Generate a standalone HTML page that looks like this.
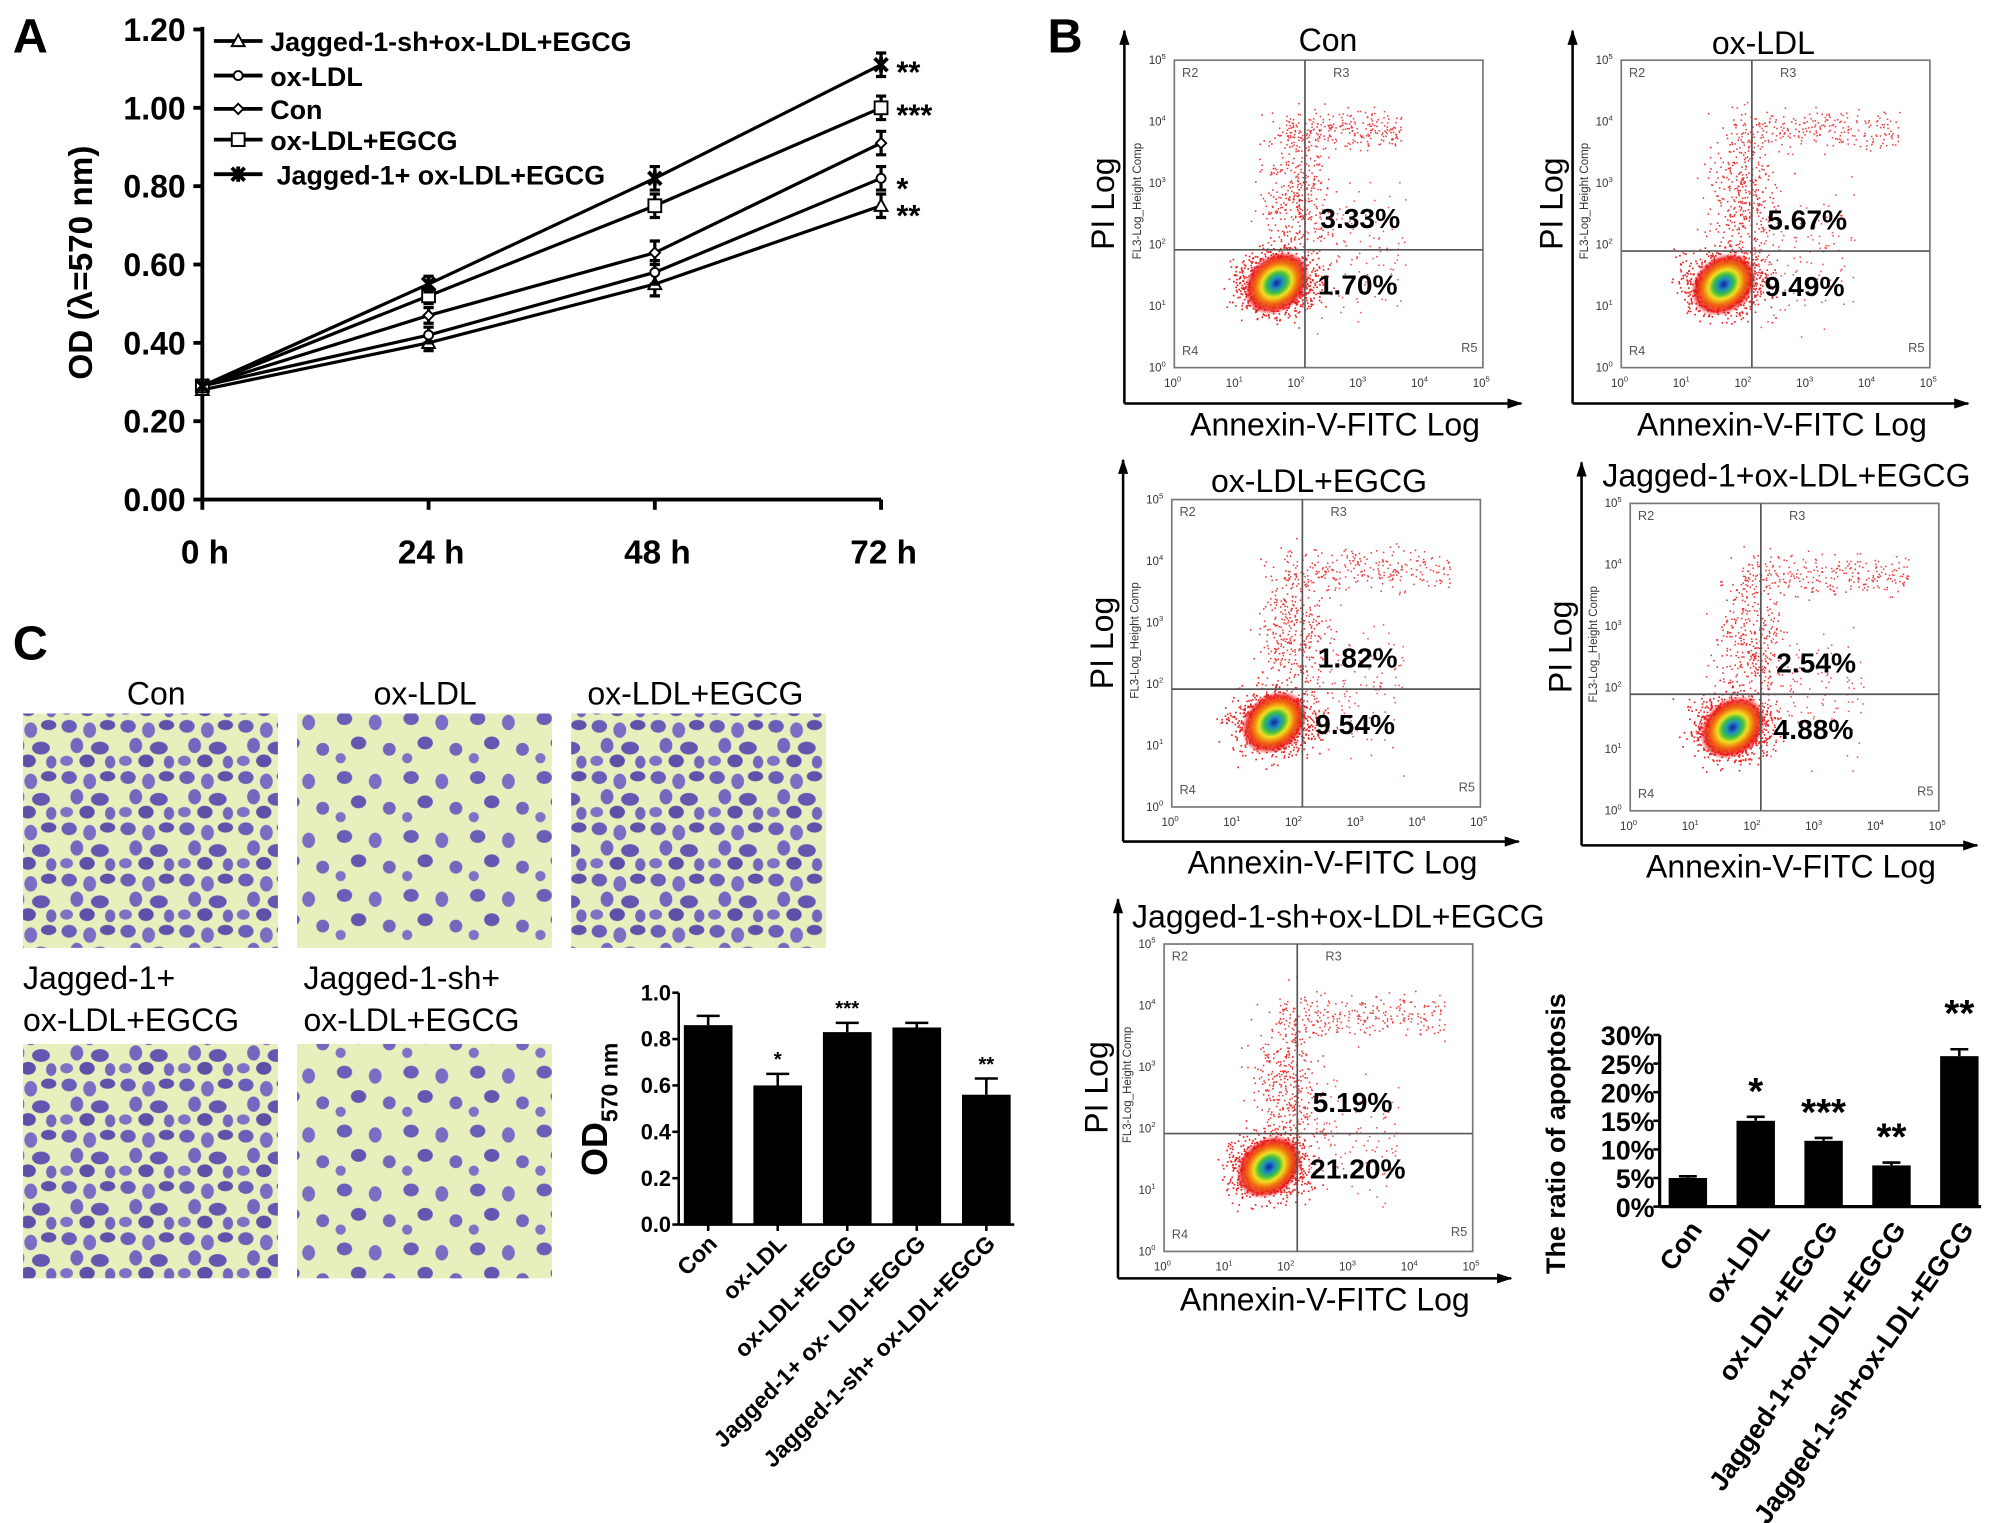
<!DOCTYPE html>
<html><head><meta charset="utf-8"><title>Figure</title>
<style>
html,body{margin:0;padding:0;background:#fff;}
svg{display:block;font-family:"Liberation Sans",Arial,sans-serif;}
.b{font-weight:bold;}
</style></head>
<body>
<svg id="fig" xmlns="http://www.w3.org/2000/svg" width="2008" height="1523" viewBox="0 0 1568 1189" preserveAspectRatio="none">
<defs>
<pattern id="cells" width="46" height="40" patternUnits="userSpaceOnUse">
<rect width="46" height="40" fill="#e9eebd"/>
<ellipse cx="8" cy="7" rx="6" ry="5" fill="#6a5fb8"/>
<ellipse cx="24" cy="10" rx="5" ry="6" fill="#7c6cc4"/>
<ellipse cx="38" cy="6" rx="6" ry="4" fill="#5e52ab"/>
<ellipse cx="14" cy="22" rx="5" ry="6" fill="#7567c0"/>
<ellipse cx="32" cy="24" rx="7" ry="5" fill="#6357b2"/>
<ellipse cx="6" cy="34" rx="5" ry="4" fill="#8070c6"/>
<ellipse cx="22" cy="34" rx="6" ry="5" fill="#5d50a8"/>
<ellipse cx="40" cy="35" rx="4" ry="5" fill="#7465bd"/>
</pattern>
<pattern id="cells2" width="52" height="46" patternUnits="userSpaceOnUse">
<rect width="52" height="46" fill="#e9eebd"/>
<ellipse cx="9" cy="9" rx="6" ry="5" fill="#6a5fb8"/>
<ellipse cx="33" cy="12" rx="5" ry="6" fill="#7c6cc4"/>
<ellipse cx="20" cy="28" rx="6" ry="5" fill="#6357b2"/>
<ellipse cx="44" cy="33" rx="5" ry="5" fill="#7465bd"/>
<ellipse cx="6" cy="40" rx="4" ry="4" fill="#8070c6"/>
</pattern>
<radialGradient id="dens">
<stop offset="0" stop-color="#1020a0"/>
<stop offset="0.18" stop-color="#1f8fbf"/>
<stop offset="0.32" stop-color="#40c040"/>
<stop offset="0.46" stop-color="#f0e020"/>
<stop offset="0.64" stop-color="#f07010"/>
<stop offset="0.85" stop-color="#e81010" stop-opacity="0.8"/>
<stop offset="1" stop-color="#ee2020" stop-opacity="0"/>
</radialGradient>
<marker id="arr" markerUnits="userSpaceOnUse" markerWidth="12" markerHeight="8" refX="11" refY="4" orient="auto"><path d="M0,0 L12,4 L0,8 z" fill="#000"/></marker>
</defs>
<g id="root"></g>
</svg>
<script>
// ---------- Panel A data ----------
const timeLabels = ["0 h","24 h","48 h","72 h"];
const seriesNames = ["Jagged-1-sh+ox-LDL+EGCG","ox-LDL","Con","ox-LDL+EGCG","Jagged-1+ ox-LDL+EGCG"];
const seriesJsh = [0.28,0.40,0.55,0.75];
const seriesOx = [0.29,0.42,0.58,0.82];
const seriesCon = [0.29,0.47,0.63,0.91];
const seriesOxE = [0.29,0.52,0.75,1.00];
const seriesJ = [0.29,0.55,0.82,1.11];
const errA = [0.02,0.02,0.03,0.03];
const aTicks = ["0.00","0.20","0.40","0.60","0.80","1.00","1.20"];
const aStars = ["**","*","","***","**"];
// ---------- Panel C bar data ----------
const cCats = ["Con","ox-LDL","ox-LDL+EGCG","Jagged-1+ ox- LDL+EGCG","Jagged-1-sh+ ox-LDL+EGCG"];
const cVals = [0.86,0.60,0.83,0.85,0.56];
const cErr = [0.04,0.05,0.04,0.02,0.07];
const cStars = ["","*","***","","**"];
const cTicks = ["0.0","0.2","0.4","0.6","0.8","1.0"];
// ---------- Panel B bar data ----------
const bCats = ["Con","ox-LDL","ox-LDL+EGCG","Jagged-1+ox-LDL+EGCG","Jagged-1-sh+ox-LDL+EGCG"];
const bVals = [5.0,15.0,11.5,7.2,26.3];
const bErr = [0.3,0.7,0.5,0.5,1.2];
const bStars = ["","*","***","**","**"];
const bTicks = ["0%","5%","10%","15%","20%","25%","30%"];
// ---------- Flow plots ----------
const flowTitles = ["Con","ox-LDL","ox-LDL+EGCG","Jagged-1+ox-LDL+EGCG","Jagged-1-sh+ox-LDL+EGCG"];
const flowUpper = ["3.33%","5.67%","1.82%","2.54%","5.19%"];
const flowLower = ["1.70%","9.49%","9.54%","4.88%","21.20%"];

const NS="http://www.w3.org/2000/svg";
const root=document.getElementById('root');
function mk(tag,attrs,parent,text){const e=document.createElementNS(NS,tag);for(const k in attrs)e.setAttribute(k,attrs[k]);if(text!==undefined)e.textContent=text;(parent||root).appendChild(e);return e;}

// ===== Panel A =====
const gA=mk('g',{});


const ax0=158, ax1=688, ay0=390, ay1=23;
const ax=i=>ax0+(ax1-ax0)*i/3;
const ay=v=>ay0-(ay0-ay1)*v/1.2;
let t=mk('text',{x:10,y:41,'font-size':38,class:'b'},gA,'A');

let l=mk('line',{x1:ax0,y1:ay1-2,x2:ax0,y2:ay0,stroke:'#000','stroke-width':3},gA);

l=mk('line',{x1:ax0,y1:ay0,x2:ax1,y2:ay0,stroke:'#000','stroke-width':3},gA);

aTicks.forEach((s,i)=>{const v=i*0.2;
 mk('line',{x1:ax0-7,y1:ay(v),x2:ax0,y2:ay(v),stroke:'#000','stroke-width':3},gA);
 const e=mk('text',{x:145,y:ay(v)+9,'font-size':25,'text-anchor':'end',class:'b'},gA,s);
 });
timeLabels.forEach((s,i)=>{
 mk('line',{x1:ax(i),y1:ay0,x2:ax(i),y2:ay0+8,stroke:'#000','stroke-width':3},gA);
 const e=mk('text',{x:ax(i)+2,y:440,'font-size':26,'text-anchor':'middle',class:'b'},gA,s);
 });
t=mk('text',{x:0,y:0,'font-size':26,'text-anchor':'middle',class:'b',transform:'translate(72,205) rotate(-90)'},gA,'OD (λ=570 nm)');

const aSeries=[seriesJsh,seriesOx,seriesCon,seriesOxE,seriesJ];
const markers=['tri','circ','dia','sq','star'];
function marker(type,x,y,g){
 if(type==='tri')mk('path',{d:`M${x},${y-5} L${x+5},${y+4} L${x-5},${y+4} Z`,fill:'#fff',stroke:'#000','stroke-width':1.5},g);
 else if(type==='circ')mk('circle',{cx:x,cy:y,r:3.5,fill:'#fff',stroke:'#000','stroke-width':1.5},g);
 else if(type==='dia')mk('path',{d:`M${x},${y-4} L${x+4},${y} L${x},${y+4} L${x-4},${y} Z`,fill:'#fff',stroke:'#000','stroke-width':1.5},g);
 else if(type==='sq')mk('rect',{x:x-5,y:y-5,width:10,height:10,fill:'#fff',stroke:'#000','stroke-width':1.5},g);
 else mk('path',{d:`M${x-5},${y-5} L${x+5},${y+5} M${x+5},${y-5} L${x-5},${y+5} M${x},${y-6} L${x},${y+6}`,stroke:'#000','stroke-width':3},g);
}
aSeries.forEach((s,k)=>{
 const g=mk('g',{},gA);
 
 
 mk('polyline',{points:s.map((v,i)=>ax(i)+','+ay(v)).join(' '),fill:'none',stroke:'#000','stroke-width':2.5},g);
 s.forEach((v,i)=>{
  if(i>0){const e=errA[i];mk('path',{d:`M${ax(i)},${ay(v+e)} V${ay(v-e)} M${ax(i)-4},${ay(v+e)} h8 M${ax(i)-4},${ay(v-e)} h8`,stroke:'#000','stroke-width':2.5,fill:'none'},g);}
  marker(markers[k],ax(i),ay(v),g);
 });
 if(aStars[k]){const st=mk('text',{x:700,y:ay(s[3])+(k===0?16:k===1?16:14),'font-size':24,class:'b'},g,aStars[k]);
  }
 const ly=[32,59,85,109,136][k];
 const lg=mk('g',{},gA);
 
 
 mk('line',{x1:167,y1:ly,x2:205,y2:ly,stroke:'#000','stroke-width':3},lg);
 marker(markers[k],186,ly,lg);
 mk('text',{x:k===4?216:211,y:ly+8,'font-size':21,class:'b'},lg,seriesNames[k]);
});

// ===== Panel C images =====
const gC=mk('g',{});


t=mk('text',{x:10,y:515,'font-size':38,class:'b'},gC,'C');

const imgs=[[18,557,'Con',122],[232,557,'ox-LDL',332],[446,557,'ox-LDL+EGCG',543],[18,815,null],[232,815,null]];
imgs.forEach((m,i)=>{
 const r=mk('rect',{x:m[0],y:m[1],width:199,height:183,fill:(i===1||i===4)?'url(#cells2)':'url(#cells)'},gC);
 
 if(m[2]){const e=mk('text',{x:m[3],y:550,'font-size':25,'text-anchor':'middle'},gC,m[2]);
  }
});
[[18,'Jagged-1+'],[237,'Jagged-1-sh+']].forEach(p=>{
 const e=mk('text',{x:p[0],y:772,'font-size':25},gC,p[1]);
 const f=mk('text',{x:p[0],y:805,'font-size':25},gC,'ox-LDL+EGCG');
});
const cx0=530,cy0=956,cy1=775;
const cy=v=>cy0-(cy0-cy1)*v;
const cxc=i=>553+i*54.3;
l=mk('line',{x1:cx0,y1:cy1,x2:cx0,y2:cy0,stroke:'#000','stroke-width':2},gC);

l=mk('line',{x1:cx0,y1:cy0,x2:792,y2:cy0,stroke:'#000','stroke-width':2},gC);

cTicks.forEach((s,i)=>{const v=i*0.2;mk('line',{x1:cx0-5,y1:cy(v),x2:cx0,y2:cy(v),stroke:'#000','stroke-width':2},gC);
 const e=mk('text',{x:cx0-6,y:cy(v)+6,'font-size':17,'text-anchor':'end',class:'b'},gC,s);
 });
t=mk('text',{x:0,y:0,'font-size':28,'text-anchor':'middle',class:'b',transform:'translate(474,866) rotate(-90)'},gC);
mk('tspan',{},t,'OD');mk('tspan',{'font-size':18,dy:8},t,'570 nm');

cVals.forEach((v,i)=>{
 const x=cxc(i);
 const b=mk('rect',{x:x-19,y:cy(v),width:38,height:cy0-cy(v),fill:'#000'},gC);
 
 mk('path',{d:`M${x},${cy(v)} V${cy(v+cErr[i])} M${x-9},${cy(v+cErr[i])} h18`,stroke:'#000','stroke-width':2},gC);
 if(cStars[i]){const s=mk('text',{x:x,y:cy(v+cErr[i])-6,'font-size':16,'text-anchor':'middle',class:'b'},gC,cStars[i]);
  }
 mk('line',{x1:x,y1:cy0,x2:x,y2:cy0+5,stroke:'#000','stroke-width':2},gC);
 const lb=mk('text',{x:0,y:0,'font-size':18,'text-anchor':'end',class:'b',transform:`translate(${x+8},${cy0+16}) rotate(-45)`},gC,cCats[i]);
 
});

// ===== Panel B flow plots =====
const gB=mk('g',{});


t=mk('text',{x:818,y:41,'font-size':38,class:'b'},gB,'B');

const flows=[
 {ax:878,ay0:24,ay1:315,fx:917,fy:47,fw:241,fh:240,qx:1019,qy:195,tx:1037,ty:40,anchor:'middle'},
 {ax:1228,ay0:24,ay1:315,fx:1266,fy:47,fw:241,fh:240,qx:1368,qy:196,tx:1377,ty:42,anchor:'middle'},
 {ax:877,ay0:359,ay1:657,fx:915,fy:390,fw:241,fh:240,qx:1017,qy:538,tx:1030,ty:384,anchor:'middle'},
 {ax:1235,ay0:361,ay1:660,fx:1273,fy:393,fw:241,fh:240,qx:1375,qy:542,tx:1395,ty:380,anchor:'middle'},
 {ax:873,ay0:702,ay1:998,fx:909,fy:737,fw:241,fh:240,qx:1013,qy:885,tx:884,ty:724,anchor:'start'}
];
let seed=7;function rnd(){seed=(seed*16807)%2147483647;return seed/2147483647;}
function gauss(){return (rnd()+rnd()+rnd()+rnd()-2)/1.15;}
flows.forEach((f,k)=>{
 const g=mk('g',{},gB);
 
 
 mk('line',{x1:f.ax,y1:f.ay1,x2:f.ax,y2:f.ay0,stroke:'#000','stroke-width':2,'marker-end':'url(#arr)'},g);
 mk('line',{x1:f.ax,y1:f.ay1,x2:f.fx+f.fw+30,y2:f.ay1,stroke:'#000','stroke-width':2,'marker-end':'url(#arr)'},g);
 mk('rect',{x:f.fx,y:f.fy,width:f.fw,height:f.fh,fill:'none',stroke:'#777','stroke-width':1.3},g);
 const cxp=f.qx-22, cyp=f.qy+26;
 for(let i=0;i<1100;i++){const x=cxp+gauss()*30, y=cyp+gauss()*24;
  mk('rect',{x:x,y:y,width:1.3,height:1.3,fill:'#e82020'},g);}
 for(let i=0;i<380;i++){const x=f.qx-8+gauss()*26, y=f.qy-40+gauss()*55;
  mk('rect',{x:x,y:y,width:1.2,height:1.2,fill:'#e83030'},g);}
 for(let i=0;i<260;i++){const x=f.qx-15+rnd()*(k===0?90:130), y=f.fy+55+gauss()*16;
  mk('rect',{x:x,y:y,width:1.2,height:1.2,fill:'#e84040'},g);}
 for(let i=0;i<120;i++){const x=f.qx+rnd()*80, y=f.qy+gauss()*50;
  mk('rect',{x:x,y:y,width:1.2,height:1.2,fill:'#ee5050'},g);}
 mk('ellipse',{cx:cxp,cy:cyp,rx:28,ry:22,fill:'url(#dens)',transform:`rotate(-40 ${cxp} ${cyp})`},g);
 mk('line',{x1:f.qx,y1:f.fy,x2:f.qx,y2:f.fy+f.fh,stroke:'#555','stroke-width':1.3},g);
 mk('line',{x1:f.fx,y1:f.qy,x2:f.fx+f.fw,y2:f.qy,stroke:'#555','stroke-width':1.3},g);
 [['R2',f.fx+6,f.fy+13],['R3',f.qx+22,f.fy+13],['R4',f.fx+6,f.fy+f.fh-10],['R5',f.fx+f.fw-17,f.fy+f.fh-12]].forEach(r=>mk('text',{x:r[1],y:r[2],'font-size':10,fill:'#555'},g,r[0]));
 for(let i=0;i<=5;i++){
  const tx=mk('text',{x:f.fx+f.fw*i/5-8,y:f.fy+f.fh+15,'font-size':9,fill:'#333'},g,'10');mk('tspan',{'font-size':6,dy:-4},tx,String(i));
  const ty=mk('text',{x:f.fx-20,y:f.fy+f.fh-f.fh*i/5+3,'font-size':9,fill:'#333'},g,'10');mk('tspan',{'font-size':6,dy:-4},ty,String(i));
 }
 mk('text',{x:0,y:0,'font-size':9,fill:'#333','text-anchor':'middle',transform:`translate(${f.fx-26},${f.fy+f.fh/2-10}) rotate(-90)`},g,'FL3-Log_Height Comp');
 const pl=mk('text',{x:0,y:0,'font-size':25,'text-anchor':'middle',transform:`translate(${f.ax-8},${f.fy+f.fh/2-8}) rotate(-90)`},g,'PI Log');
 
 const xl=mk('text',{x:f.fx+f.fw/2+5,y:f.ay1+25,'font-size':25,'text-anchor':'middle'},g,'Annexin-V-FITC Log');
 
 const tt=mk('text',{x:f.tx,y:f.ty,'font-size':25,'text-anchor':f.anchor},g,flowTitles[k]);
 
 const u=mk('text',{x:f.qx+12,y:f.qy-17,'font-size':22,class:'b'},g,flowUpper[k]);
 
 const lo=mk('text',{x:f.qx+10,y:f.qy+35,'font-size':22,class:'b'},g,flowLower[k]);
 
});
const bx0=1296,by0=942,by1=808;
const by=v=>by0-(by0-by1)*v/30;
const bxc=i=>1318+i*53;
l=mk('line',{x1:bx0,y1:by1,x2:bx0,y2:by0,stroke:'#000','stroke-width':2.5},gB);

l=mk('line',{x1:bx0,y1:by0,x2:1547,y2:by0,stroke:'#000','stroke-width':2.5},gB);

bTicks.forEach((s,i)=>{const v=i*5;mk('line',{x1:bx0-5,y1:by(v),x2:bx0,y2:by(v),stroke:'#000','stroke-width':2},gB);
 const e=mk('text',{x:bx0-4,y:by(v)+8,'font-size':21,'text-anchor':'end',class:'b'},gB,s);
 });
t=mk('text',{x:0,y:0,'font-size':21,'text-anchor':'middle',class:'b',transform:'translate(1222,885) rotate(-90)'},gB,'The ratio of apoptosis');

bVals.forEach((v,i)=>{
 const x=bxc(i);
 const b=mk('rect',{x:x-15,y:by(v),width:30,height:by0-by(v),fill:'#000'},gB);
 
 mk('path',{d:`M${x},${by(v)} V${by(v+bErr[i])} M${x-7},${by(v+bErr[i])} h14`,stroke:'#000','stroke-width':2},gB);
 if(bStars[i]){const s=mk('text',{x:x,y:by(v+bErr[i])-(i===4?18:10),'font-size':30,'text-anchor':'middle',class:'b'},gB,bStars[i]);
  }
 const lb=mk('text',{x:0,y:0,'font-size':21,'text-anchor':'end',class:'b',transform:`translate(${x+12},${by0+18}) rotate(-55)`},gB,bCats[i]);
 
});
</script>
</body></html>
